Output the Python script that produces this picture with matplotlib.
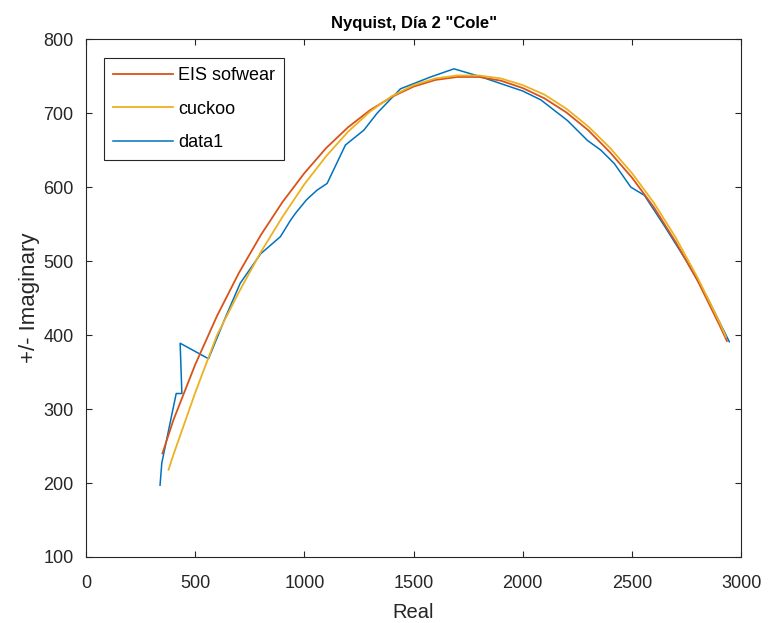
import matplotlib
matplotlib.use("Agg")
import matplotlib.pyplot as plt

plt.rcParams['font.family'] = ['Liberation Sans', 'DejaVu Sans']

# data1 (measured)
data_re = [339, 347, 413, 439, 431, 561, 640, 706, 800, 890, 936, 960, 1010, 1058,
           1104, 1188, 1272, 1333, 1440, 1578, 1685, 1800, 1900, 2000, 2083, 2205,
           2297, 2358, 2419, 2495, 2557, 2650, 2750, 2850, 2946]
data_im = [197, 227, 321, 321, 389, 368, 425, 470, 510, 533, 555, 565, 583, 596,
           605, 657, 677, 700, 733, 749, 760, 750, 740, 730, 718, 690,
           663, 650, 632, 600, 589, 547, 500, 448, 391]

# EIS sofwear fit
eis_re = [350, 400, 500, 600, 700, 800, 900, 1000, 1100, 1200, 1300, 1400, 1500, 1600,
          1700, 1800, 1900, 2000, 2100, 2200, 2300, 2400, 2500, 2600, 2700, 2800,
          2900, 2935]
eis_im = [240, 285, 360, 426, 484, 535, 580, 619, 653, 681, 704, 722, 736, 745,
          749, 749, 744, 734, 720, 701, 677, 647, 613, 573, 526, 474,
          414, 392]

# cuckoo fit
cuckoo_re = [378, 400, 500, 600, 700, 800, 900, 1000, 1100, 1200, 1300, 1400, 1500,
             1600, 1700, 1800, 1900, 2000, 2100, 2200, 2300, 2400, 2500, 2600, 2700,
             2800, 2900, 2930]
cuckoo_im = [218, 238, 322, 400, 458, 512, 560, 604, 642, 675, 702, 723, 738,
             747, 751, 751, 747, 738, 725, 706, 682, 653, 619, 579, 532,
             478, 418, 398]

fig = plt.figure(figsize=(7.68, 6.23), dpi=100)
ax = fig.add_axes([0.112, 0.106, 0.853, 0.831])

l_data, = ax.plot(data_re, data_im, color='#0072BD', lw=1.1, label='data1')
l_eis, = ax.plot(eis_re, eis_im, color='#D95319', lw=1.3, label='EIS sofwear')
l_cuc, = ax.plot(cuckoo_re, cuckoo_im, color='#EDB120', lw=1.3, label='cuckoo')

ax.set_xlim(0, 3000)
ax.set_ylim(100, 800)
ax.set_xticks(range(0, 3001, 500))
ax.set_yticks(range(100, 801, 100))
ax.tick_params(direction='in', length=4, width=0.8, top=True, right=True,
               labelsize=13, colors='#262626')
ax.tick_params(axis='x', pad=13)
ax.tick_params(axis='y', pad=9)
for s in ax.spines.values():
    s.set_color('#262626')
    s.set_linewidth(0.8)

ax.set_title('Nyquist, Día 2 "Cole"', fontsize=12, fontweight='bold', pad=8)
ax.set_xlabel('Real', fontsize=14.5, color='#262626', labelpad=8)
ax.set_ylabel('+/- Imaginary', fontsize=16, color='#262626', labelpad=2)

leg = ax.legend(handles=[l_eis, l_cuc, l_data], loc='upper left',
                bbox_to_anchor=(0.0275, 0.963), borderaxespad=0, fontsize=13,
                fancybox=False, framealpha=1, edgecolor='#262626',
                handlelength=3.3, handletextpad=0.3, borderpad=0.5,
                labelspacing=0.9)
leg.get_frame().set_linewidth(0.8)

fig.savefig('out.png', dpi=100)
